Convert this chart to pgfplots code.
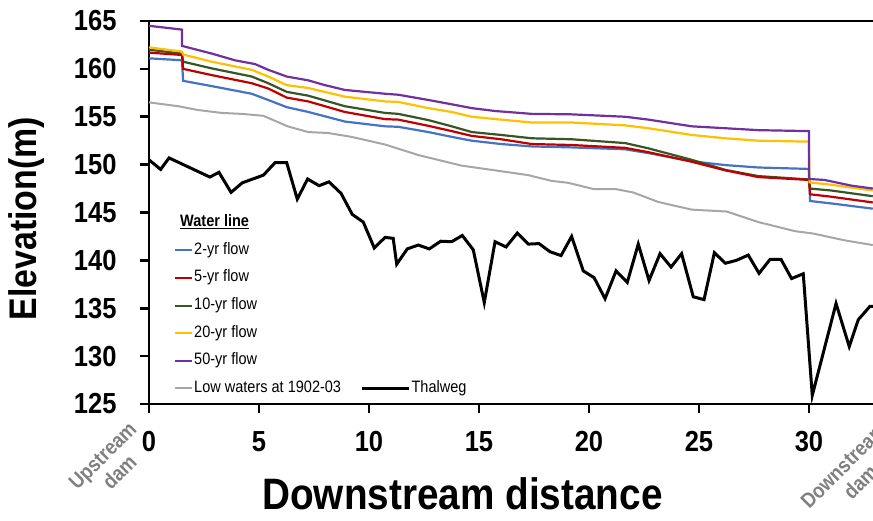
\documentclass[border=0pt]{standalone}
\usepackage{pgfplots}
\pgfplotsset{compat=1.18}
\usepackage{fontspec}
\setmainfont{Liberation Sans}[FakeStretch=0.88]
\definecolor{cblue}{HTML}{4472C4}
\definecolor{cred}{HTML}{C00000}
\definecolor{cgreen}{HTML}{375623}
\definecolor{cyellow}{HTML}{FFC000}
\definecolor{cpurple}{HTML}{7030A0}
\definecolor{cgray}{HTML}{A6A6A6}
\definecolor{cdam}{HTML}{808080}

\pgfplotstableread{
x y
0 150.5
0.53 149.5
0.91 150.7
2.77 148.7
3.18 149.2
3.73 147.1
4.24 148.1
5.2 148.9
5.73 150.2
6.26 150.2
6.74 146.4
7.21 148.5
7.73 147.8
8.18 148.2
8.73 147.0
9.24 144.8
9.74 144.0
10.24 141.3
10.73 142.4
11.1 142.3
11.26 139.6
11.74 141.2
12.24 141.6
12.74 141.2
13.26 142.0
13.76 141.95
14.24 142.6
14.74 141.1
15.24 135.6
15.73 141.95
16.23 141.4
16.74 142.85
17.24 141.7
17.73 141.75
18.23 140.9
18.73 140.5
19.21 142.5
19.74 138.9
20.23 138.2
20.73 136.0
21.23 138.9
21.74 137.7
22.24 141.7
22.73 137.9
23.23 140.7
23.73 139.3
24.21 140.7
24.74 136.2
25.23 135.9
25.7 140.8
26.2 139.7
26.7 140.0
27.24 140.55
27.73 138.65
28.23 140.1
28.73 140.1
29.21 138.1
29.74 138.6
30.15 125.9
31.23 135.5
31.83 131.0
32.24 133.8
32.77 135.2
32.9 135.2
}\thalweg

\pgfplotstableread{
x y
0 156.5
1.33 156.1
2.24 155.7
3.3 155.4
4.2 155.3
5.2 155.1
6.3 154.0
7.24 153.4
8.15 153.3
9.2 152.9
10.73 152.1
12.24 151.0
14.2 149.9
15.73 149.4
17.24 148.9
18.3 148.3
19.06 148.1
20.2 147.45
21.2 147.45
22.0 147.1
23.15 146.1
24.67 145.3
26.26 145.1
27.7 144.0
29.36 143.05
30.2 142.8
31.6 142.1
32.9 141.6
}\lowwater

\pgfplotstableread{
x y
0 161.1
1.5 160.9
1.55 158.75
2.85 158.2
4.67 157.4
5.42 156.75
6.26 156.0
7.24 155.5
8.9 154.5
10.73 154.0
11.33 153.95
12.7 153.4
13.76 152.9
14.67 152.5
16.0 152.15
17.4 151.9
19.2 151.8
21.64 151.6
22.7 151.2
24.67 150.35
26.2 149.95
27.7 149.7
30.0 149.55
30.05 146.2
31.0 145.95
32.9 145.4
}\flowtwo

\pgfplotstableread{
x y
0 161.7
1.5 161.45
1.55 160.0
2.85 159.35
4.67 158.5
5.42 157.95
6.26 157.0
7.24 156.6
8.9 155.5
10.73 154.75
11.33 154.7
12.7 154.05
13.76 153.5
14.67 153.0
16.0 152.65
17.4 152.15
19.2 152.05
21.64 151.75
22.7 151.3
24.67 150.3
26.2 149.4
27.7 148.7
30.0 148.4
30.05 146.9
31.0 146.65
32.9 146.05
}\flowfive

\pgfplotstableread{
x y
0 162.0
1.5 161.6
1.55 160.75
2.85 160.05
4.67 159.2
5.42 158.5
6.26 157.6
7.24 157.2
8.9 156.1
10.73 155.4
11.33 155.3
12.7 154.65
13.76 154.0
14.67 153.4
16.0 153.1
17.4 152.75
19.2 152.65
21.64 152.25
22.7 151.7
24.67 150.5
26.2 149.45
27.7 148.8
30.0 148.45
30.05 147.5
31.0 147.3
32.9 146.7
}\flowten

\pgfplotstableread{
x y
0 162.25
1.5 161.8
1.55 161.5
2.85 160.75
4.67 159.9
5.42 159.2
6.26 158.3
7.24 158.0
8.9 157.1
10.73 156.6
11.33 156.55
12.7 155.9
13.76 155.5
14.67 155.0
16.0 154.7
17.4 154.4
19.2 154.4
21.64 154.1
22.7 153.8
24.67 153.1
26.2 152.75
27.7 152.5
30.0 152.4
30.02 148.15
31.0 147.9
32.9 147.3
}\flowtwenty

\pgfplotstableread{
x y
0 164.5
1.5 164.1
1.5 162.4
2.85 161.6
3.9 160.9
4.82 160.5
5.42 159.9
6.26 159.2
7.24 158.8
8.0 158.3
8.9 157.8
10.73 157.4
11.33 157.3
12.7 156.75
13.76 156.3
14.67 155.9
15.73 155.6
17.4 155.3
19.2 155.25
21.64 155.0
22.7 154.7
24.67 154.0
26.2 153.8
27.7 153.6
30.0 153.5
30.0 148.5
30.7 148.4
31.94 147.8
32.9 147.5
}\flowfifty

\begin{document}
\begin{tikzpicture}
\begin{axis}[
  at={(0,0)}, anchor=south west,
  scale only axis, width=724pt, height=383pt,
  xmin=0, xmax=32.91, ymin=125, ymax=165,
  axis x line=box, axis y line=left,
  axis line style={-, line width=2.8pt, black},
  xtick={0,5,...,30}, ytick={125,130,...,165},
  tick align=outside, xtick pos=left, ytick pos=left,
  major tick length=9pt,
  every tick/.style={black, line width=2.6pt},
  /pgf/number format/assume math mode=true,
  tick label style={font=\fontsize{29}{31}\selectfont\bfseries},
  xticklabel style={yshift=-15pt},
  yticklabel style={xshift=-20pt},
  xlabel={Downstream distance},
  ylabel={Elevation(m)},
  xlabel style={font=\fontsize{44}{48}\selectfont\bfseries, at={(axis description cs:0.433,0)}, anchor=base, yshift=-106pt},
  ylabel style={font=\fontsize{38.5}{42}\selectfont\bfseries, at={(axis description cs:-0.1560,0.484)}, anchor=base},
  clip=false,
  legend columns=2,
  legend cell align=left,
  legend style={at={(axis cs:1.0,145.1)}, anchor=north west, draw=none, fill=none,
    font=\fontsize{16.5}{19}\selectfont, row sep=9.6pt, column sep=0pt,
    nodes={text height=12pt, text depth=4pt, inner sep=1pt}},
  wl/.style={line width=2pt, legend image code/.code={\draw[##1] (0pt,0pt) -- (17pt,0pt);}},
  tw/.style={line width=3.5pt, legend image code/.code={\path (0pt,0pt); \draw[##1] (18pt,0pt) -- (65pt,0pt);}},
]
\addplot[forget plot, cgray, line width=2pt] table {\lowwater};
\addplot[forget plot, cblue, line width=2.2pt] table {\flowtwo};
\addplot[forget plot, cgreen, line width=2.2pt] table {\flowten};
\addplot[forget plot, cred, line width=2.2pt] table {\flowfive};
\addplot[forget plot, cyellow, line width=2.2pt] table {\flowtwenty};
\addplot[forget plot, cpurple, line width=2.2pt] table {\flowfifty};
\addplot[forget plot, black, line width=3pt] table {\thalweg};

\addlegendimage{empty legend}\addlegendentry{\hspace*{-14pt}\textbf{\underline{Water line}}}
\addlegendimage{empty legend}\addlegendentry{~}
\addlegendimage{wl, cblue}\addlegendentry{2-yr flow}
\addlegendimage{empty legend}\addlegendentry{~}
\addlegendimage{wl, cred}\addlegendentry{5-yr flow}
\addlegendimage{empty legend}\addlegendentry{~}
\addlegendimage{wl, cgreen}\addlegendentry{10-yr flow}
\addlegendimage{empty legend}\addlegendentry{~}
\addlegendimage{wl, cyellow}\addlegendentry{20-yr flow}
\addlegendimage{empty legend}\addlegendentry{~}
\addlegendimage{wl, cpurple}\addlegendentry{50-yr flow}
\addlegendimage{empty legend}\addlegendentry{~}
\addlegendimage{wl, cgray}\addlegendentry{Low waters at 1902-03}
\addlegendimage{tw, black}\addlegendentry{Thalweg}

\node[rotate=45, align=center, anchor=center, text=cdam, font=\fontsize{21}{24}\selectfont\bfseries]
  at ([xshift=-38pt, yshift=-60pt]axis cs:0,125) {Upstream\\dam};
\node[rotate=45, align=center, anchor=center, text=cdam, font=\fontsize{21}{24}\selectfont\bfseries]
  at ([xshift=43pt, yshift=-70pt]axis cs:30,125) {Downstream\\dam};
\end{axis}
\pgfresetboundingbox
\path[use as bounding box] (-149pt,-117pt) rectangle (724pt,404pt);
\end{tikzpicture}
\end{document}
